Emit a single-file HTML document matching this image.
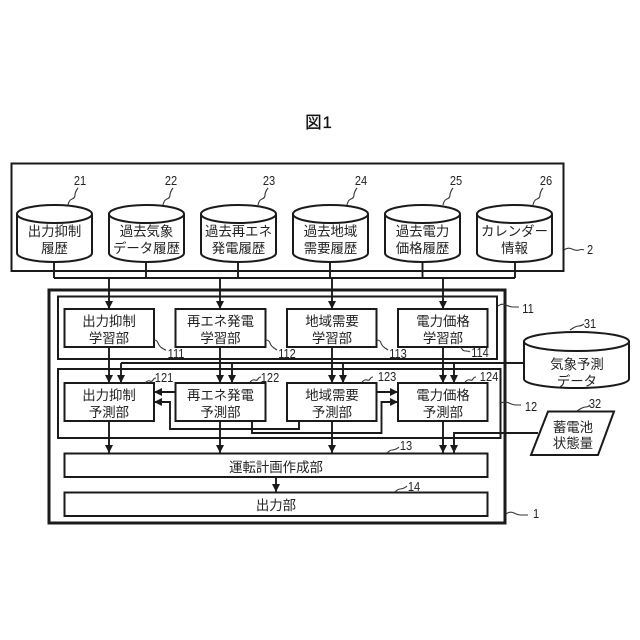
<!DOCTYPE html>
<html><head><meta charset="utf-8"><style>
html,body{margin:0;padding:0;background:#fff}
svg{display:block}
.l{fill:none;stroke:#1a1a1a;stroke-width:1.9}
.b{fill:#fff;stroke:#1a1a1a;stroke-width:2}
.t{font-family:"Liberation Sans","Noto Sans CJK JP",sans-serif;font-size:13.4px;fill:#222;text-anchor:middle}
.n{font-family:"Liberation Sans",sans-serif;font-size:13px;fill:#222;text-anchor:middle;transform-box:fill-box;transform-origin:center;transform:scaleX(.85)}
.w{fill:none;stroke:#333;stroke-width:1.1}
</style></head><body>
<svg width="640" height="640" viewBox="0 0 640 640" xmlns="http://www.w3.org/2000/svg">
<defs>
<marker id="a" markerUnits="userSpaceOnUse" markerWidth="9" markerHeight="9" refX="8" refY="4" orient="auto"><path d="M0,0L8,4L0,8z" fill="#1a1a1a"/></marker>
<g id="c"><path d="M0,9V48C0,53 16,57 37.500,57S75,53 75,48V9" class="b"/><ellipse cx="37.500" cy="9" rx="37.500" ry="9" class="b"/></g>
</defs>
<text x="319" y="128" font-family="'Liberation Sans','Noto Sans CJK JP',sans-serif" font-size="16.500" letter-spacing="1" text-anchor="middle" fill="#111" stroke="#111" stroke-width=".3">図1</text>

<rect x="11.500" y="163.500" width="552" height="107.500" class="b"/>
<use href="#c" x="17" y="205"/><use href="#c" x="109" y="205"/><use href="#c" x="201" y="205"/>
<use href="#c" x="293" y="205"/><use href="#c" x="385" y="205"/><use href="#c" x="477" y="205"/>
<path class="l" d="M54,262V278M146,262V278M238,262V278M330,262V278M422.500,262V278M515,262V278M54,278H515"/>

<rect x="49" y="290" width="456" height="233" fill="#fff" stroke="#1a1a1a" stroke-width="3"/>
<rect x="58" y="296.500" width="439" height="62.500" class="b"/>
<rect x="58" y="369" width="442.500" height="69" class="b"/>

<path class="l" marker-end="url(#a)" d="M109,278V309"/>
<path class="l" marker-end="url(#a)" d="M220,278V309"/>
<path class="l" marker-end="url(#a)" d="M332,278V309"/>
<path class="l" marker-end="url(#a)" d="M443,278V309"/>

<path class="l" marker-end="url(#a)" d="M109,347V383"/>
<path class="l" marker-end="url(#a)" d="M220,347V383"/>
<path class="l" marker-end="url(#a)" d="M332,347V383"/>
<path class="l" marker-end="url(#a)" d="M443,347V383"/>

<path class="l" d="M524,363H121"/>
<path class="l" marker-end="url(#a)" d="M121,363V383"/>
<path class="l" marker-end="url(#a)" d="M232,363V383"/>
<path class="l" marker-end="url(#a)" d="M343,363V383"/>
<path class="l" marker-end="url(#a)" d="M454,363V383"/>

<path class="l" marker-end="url(#a)" d="M109,421V453"/>
<path class="l" marker-end="url(#a)" d="M220,421V453"/>
<path class="l" marker-end="url(#a)" d="M332,421V453"/>
<path class="l" marker-end="url(#a)" d="M443,421V453"/>
<path class="l" marker-end="url(#a)" d="M538,433H454V453"/>
<path class="l" marker-end="url(#a)" d="M276,477V492"/>

<path class="l" marker-end="url(#a)" d="M175,392H154"/>
<path class="l" marker-end="url(#a)" d="M299,421V429H170V402H154"/>
<path class="l" marker-end="url(#a)" d="M252,421V433H381.500V402H398"/>
<path class="l" marker-end="url(#a)" d="M376,392H398"/>

<rect x="64.500" y="309" width="89.500" height="38" class="b"/>
<rect x="175.500" y="309" width="90" height="38" class="b"/>
<rect x="287" y="309" width="89.500" height="38" class="b"/>
<rect x="398" y="309" width="89.500" height="38" class="b"/>
<rect x="64.500" y="383" width="89.500" height="38" class="b"/>
<rect x="175.500" y="383" width="90" height="38" class="b"/>
<rect x="287" y="383" width="89.500" height="38" class="b"/>
<rect x="398" y="383" width="89.500" height="38" class="b"/>
<rect x="64.500" y="453.500" width="423" height="23.500" class="b"/>
<rect x="64.500" y="492.500" width="423" height="23.500" class="b"/>

<path d="M524,341V379C524,384 547,388 576.500,388S629,384 629,379V341" class="b"/>
<ellipse cx="576.500" cy="341.500" rx="52.500" ry="9.500" class="b"/>
<path d="M548,411.500H614L598,455H531z" class="b"/>

<text class="t" x="54.500" y="236">出力抑制</text><text class="t" x="54.500" y="253">履歴</text>
<text class="t" x="146.500" y="236">過去気象</text><text class="t" x="146.500" y="253">データ履歴</text>
<text class="t" x="238.500" y="236">過去再エネ</text><text class="t" x="238.500" y="253">発電履歴</text>
<text class="t" x="330.500" y="236">過去地域</text><text class="t" x="330.500" y="253">需要履歴</text>
<text class="t" x="422.500" y="236">過去電力</text><text class="t" x="422.500" y="253">価格履歴</text>
<text class="t" x="514.500" y="236">カレンダー</text><text class="t" x="514.500" y="253">情報</text>

<text class="t" x="109" y="326">出力抑制</text><text class="t" x="109" y="343">学習部</text>
<text class="t" x="220.500" y="326">再エネ発電</text><text class="t" x="220.500" y="343">学習部</text>
<text class="t" x="332" y="326">地域需要</text><text class="t" x="332" y="343">学習部</text>
<text class="t" x="443" y="326">電力価格</text><text class="t" x="443" y="343">学習部</text>

<text class="t" x="109" y="400">出力抑制</text><text class="t" x="109" y="417">予測部</text>
<text class="t" x="220.500" y="400">再エネ発電</text><text class="t" x="220.500" y="417">予測部</text>
<text class="t" x="332" y="400">地域需要</text><text class="t" x="332" y="417">予測部</text>
<text class="t" x="443" y="400">電力価格</text><text class="t" x="443" y="417">予測部</text>

<text class="t" x="276" y="472">運転計画作成部</text>
<text class="t" x="276" y="510">出力部</text>
<text class="t" x="577" y="369">気象予測</text><text class="t" x="577" y="386">データ</text>
<text class="t" x="573" y="432">蓄電池</text><text class="t" x="573" y="448">状態量</text>

<text class="n" x="80" y="185">21</text><text class="n" x="171" y="185">22</text><text class="n" x="269" y="185">23</text>
<text class="n" x="361" y="185">24</text><text class="n" x="456" y="185">25</text><text class="n" x="546" y="185">26</text>
<text class="n" x="590" y="254">2</text><text class="n" x="528" y="313">11</text><text class="n" x="590" y="328">31</text>
<text class="n" x="531" y="411">12</text><text class="n" x="595" y="408">32</text><text class="n" x="536" y="518">1</text>
<text class="n" x="406" y="450">13</text><text class="n" x="414" y="491">14</text>
<text class="n" x="176" y="358">111</text><text class="n" x="287" y="358">112</text><text class="n" x="398" y="358">113</text><text class="n" x="480" y="357">114</text>
<text class="n" x="164" y="382">121</text><text class="n" x="270" y="382">122</text><text class="n" x="387" y="381">123</text><text class="n" x="489" y="381">124</text>

<path class="w" d="M68,205q1,-5 4,-6t3,-4t3,-7"/>
<path class="w" d="M163,205q1,-5 4,-6t3,-4t3,-7"/>
<path class="w" d="M258,205q1,-5 4,-6t3,-4t3,-7"/>
<path class="w" d="M347,205q1,-5 4,-6t3,-4t3,-7"/>
<path class="w" d="M443,205q1,-5 4,-6t3,-4t3,-7"/>
<path class="w" d="M533,205q1,-5 4,-6t3,-4t3,-7"/>
<path class="w" d="M564,250q4,-3 8,-1t7,1t5,0"/>
<path class="w" d="M498,306q4,-3 8,-1t7,2t6,0"/>
<path class="w" d="M501,403q4,-2 8,0t7,2t5,0"/>
<path class="w" d="M506,514q4,-3 8,-1t7,2t7,0"/>
<path class="w" d="M570,330q3,-2 5,-3t4,-1t5,-2"/>
<path class="w" d="M577,411q3,-2 5,-3t4,-1t4,-2"/>
<path class="w" d="M387,453q3,-3 5,-3t4,-1t3,-2"/>
<path class="w" d="M395,492q3,-3 5,-3t4,-1t3,-2"/>
<path class="w" d="M145,383q3,-3 5,-2t3,-1t3,-2"/>
<path class="w" d="M250,382q3,-3 5,-2t3,-1t3,-2"/>
<path class="w" d="M362,382q3,-3 5,-2t3,-1t3,-2"/>
<path class="w" d="M465,382q3,-3 5,-2t3,-1t3,-2"/>
<path class="w" d="M154,340q3,0 4,3t4,5t4,2"/>
<path class="w" d="M266,340q3,0 4,3t4,5t3,2"/>
<path class="w" d="M377,340q3,0 4,3t4,5t3,2"/>
<path class="w" d="M459,347q2,0 3,2t4,2t4,1"/>
</svg>
</body></html>
